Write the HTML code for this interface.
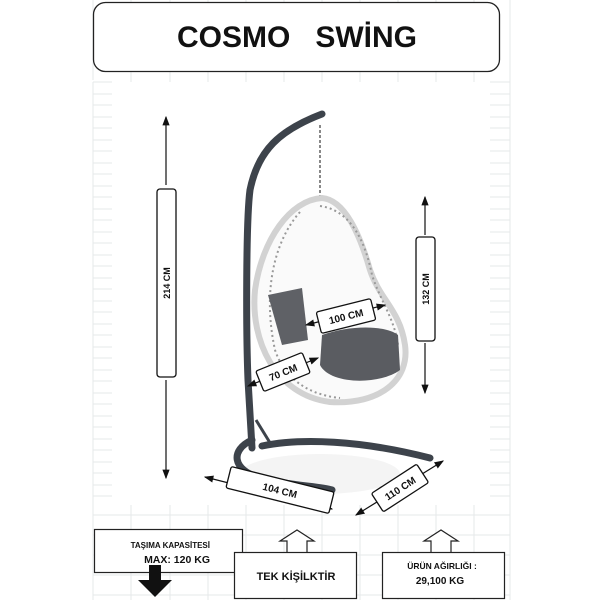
<!DOCTYPE html>
<html><head><meta charset="utf-8"><style>
body{margin:0;background:#fff}
svg{display:block}
text{font-family:"Liberation Sans",sans-serif;font-weight:bold;fill:#111}
</style></head><body>
<svg width="600" height="600" viewBox="0 0 600 600" xmlns="http://www.w3.org/2000/svg">
<defs>
<marker id="a" markerWidth="8" markerHeight="8" refX="7" refY="4" orient="auto"><path d="M0,1 L8,4 L0,7 z" fill="#111"/></marker>
<marker id="b" markerWidth="8" markerHeight="8" refX="1" refY="4" orient="auto"><path d="M8,1 L0,4 L8,7 z" fill="#111"/></marker>
</defs>
<g stroke="#e6e8ea" stroke-width="1">
<path d="M93,82 H112 M93,94 H112 M93,105 H112 M93,117 H112 M93,128 H112 M93,140 H112 M93,151 H112 M93,163 H112 M93,174 H112 M93,186 H112 M93,197 H112 M93,209 H112 M93,220 H112 M93,232 H112 M93,243 H112 M93,255 H112 M93,266 H112 M93,278 H112 M93,289 H112 M93,301 H112 M93,312 H112 M93,324 H112 M93,335 H112 M93,347 H112 M93,358 H112 M93,370 H112 M93,381 H112 M93,393 H112 M93,404 H112 M93,416 H112 M93,427 H112 M93,439 H112 M93,450 H112 M93,462 H112 M93,473 H112 M93,485 H112 M93,496 H112"/>
<path d="M490,82 H510 M490,94 H510 M490,105 H510 M490,117 H510 M490,128 H510 M490,140 H510 M490,151 H510 M490,163 H510 M490,174 H510 M490,186 H510 M490,197 H510 M490,209 H510 M490,220 H510 M490,232 H510 M490,243 H510 M490,255 H510 M490,266 H510 M490,278 H510 M490,289 H510 M490,301 H510 M490,312 H510 M490,324 H510 M490,335 H510 M490,347 H510 M490,358 H510 M490,370 H510 M490,381 H510 M490,393 H510 M490,404 H510 M490,416 H510 M490,427 H510 M490,439 H510 M490,450 H510 M490,462 H510 M490,473 H510 M490,485 H510 M490,496 H510"/>
<path d="M93,82 V600 M510,0 V600 M93,515 H510 M93,535 H510 M93,555 H510 M93,575 H510 M93,595 H510 M93,0 V80 M131,0 V82 M170,0 V82 M208,0 V82 M246,0 V82 M284,0 V82 M322,0 V82 M360,0 V82 M398,0 V82 M436,0 V82 M474,0 V82 M131,505 V600 M170,505 V600 M208,505 V600 M246,505 V600 M284,505 V600 M322,505 V600 M360,505 V600 M398,505 V600 M436,505 V600 M474,505 V600"/>
</g>
<rect x="93.5" y="2.5" width="406" height="69" rx="12" fill="#fff" stroke="#222" stroke-width="1.3"/>
<text x="297" y="47" font-size="30" text-anchor="middle">COSMO&#160;&#160;&#160;SWİNG</text>

<!-- swing -->
<ellipse cx="320" cy="474" rx="80" ry="20" fill="#f4f4f4"/>
<path d="M322,114 C280,130 258,150 250,190 C246,220 246,330 248,380 L252,448" fill="none" stroke="#3d434b" stroke-width="7" stroke-linecap="round"/>
<path d="M252,440 C230,450 232,470 260,478 C290,486 320,486 332,490 M262,446 C300,438 360,440 430,458" fill="none" stroke="#3d434b" stroke-width="7" stroke-linecap="round"/>
<path d="M256,420 L272,446" stroke="#3d434b" stroke-width="3"/>
<path d="M320,125 V196" stroke="#888" stroke-width="2" stroke-dasharray="3 2"/>
<path d="M322,198 C290,200 262,240 255,290 C250,340 275,395 330,402 C380,405 410,380 405,345 C400,310 380,300 370,270 C360,235 345,200 322,198 Z" fill="#fafafa" stroke="#d2d2d2" stroke-width="6"/>
<path d="M320,206 C350,210 365,240 372,275 C380,300 395,320 398,345 M300,212 C275,240 262,290 275,350 C285,380 310,395 340,398" fill="none" stroke="#999" stroke-width="2" stroke-dasharray="2 3"/>
<path d="M268,295 L302,288 L308,340 L282,345 Z" fill="#5f6166"/>
<path d="M322,335 C350,325 385,325 398,335 L400,370 C380,385 330,385 320,365 Z" fill="#5a5c61"/>

<!-- 214 -->
<line x1="166" y1="185" x2="166" y2="117" stroke="#111" stroke-width="1.2" marker-end="url(#a)"/>
<line x1="166" y1="380" x2="166" y2="478" stroke="#111" stroke-width="1.2" marker-end="url(#a)"/>
<rect x="157" y="189" width="19" height="188" rx="3" fill="#fff" stroke="#111" stroke-width="1.3"/>
<text transform="translate(170,283) rotate(-90)" font-size="9" text-anchor="middle">214 CM</text>
<!-- 132 -->
<line x1="425" y1="235" x2="425" y2="197" stroke="#111" stroke-width="1.2" marker-end="url(#a)"/>
<line x1="425" y1="343" x2="425" y2="393" stroke="#111" stroke-width="1.2" marker-end="url(#a)"/>
<rect x="416" y="237" width="19" height="104" rx="3" fill="#fff" stroke="#111" stroke-width="1.3"/>
<text transform="translate(429,289) rotate(-90)" font-size="9" text-anchor="middle">132 CM</text>
<!-- 100 -->
<line x1="306" y1="325" x2="385" y2="305" stroke="#111" stroke-width="1.2" marker-start="url(#b)" marker-end="url(#a)"/>
<g transform="translate(346,316) rotate(-14)"><rect x="-28" y="-11" width="56" height="22" rx="2" fill="#fff" stroke="#111" stroke-width="1.3"/><text y="4" font-size="10" text-anchor="middle">100 CM</text></g>
<!-- 70 -->
<line x1="248" y1="386" x2="318" y2="358" stroke="#111" stroke-width="1.2" marker-start="url(#b)" marker-end="url(#a)"/>
<g transform="translate(283,372) rotate(-22)"><rect x="-25" y="-11" width="50" height="22" rx="2" fill="#fff" stroke="#111" stroke-width="1.3"/><text y="4" font-size="10" text-anchor="middle">70 CM</text></g>
<!-- 104 -->
<line x1="205" y1="477" x2="332" y2="509" stroke="#111" stroke-width="1.2" marker-start="url(#b)" marker-end="url(#a)"/>
<g transform="translate(280,490) rotate(14)"><rect x="-53" y="-11" width="106" height="22" rx="2" fill="#fff" stroke="#111" stroke-width="1.3"/><text y="4" font-size="10" text-anchor="middle">104 CM</text></g>
<!-- 110 -->
<line x1="356" y1="515" x2="443" y2="461" stroke="#111" stroke-width="1.2" marker-start="url(#b)" marker-end="url(#a)"/>
<g transform="translate(400,488) rotate(-33)"><rect x="-27" y="-11" width="54" height="22" rx="2" fill="#fff" stroke="#111" stroke-width="1.3"/><text y="4" font-size="10" text-anchor="middle">110 CM</text></g>

<!-- bottom boxes -->
<rect x="94.5" y="529.5" width="148" height="43" fill="#fff" stroke="#222" stroke-width="1.2"/>
<text x="210" y="548" font-size="8" text-anchor="end">TAŞIMA KAPASİTESİ</text>
<text x="210" y="563" font-size="10.5" text-anchor="end">MAX: 120 KG</text>
<path d="M149,565 H161 V580 H172 L155,597 L138,580 H149 Z" fill="#111"/>

<path d="M287,552 V541 H280 L297,530 L314,541 H307 V552" fill="#fff" stroke="#222" stroke-width="1.2"/>
<rect x="234.5" y="552.5" width="122" height="46" fill="#fff" stroke="#222" stroke-width="1.2"/>
<text x="296" y="580" font-size="11" text-anchor="middle">TEK KİŞİLKTİR</text>

<path d="M431,552 V541 H424 L441,530 L458,541 H451 V552" fill="#fff" stroke="#222" stroke-width="1.2"/>
<rect x="382.5" y="552.5" width="122" height="46" fill="#fff" stroke="#222" stroke-width="1.2"/>
<text x="442" y="569" font-size="8.5" text-anchor="middle">ÜRÜN AĞIRLIĞI  :</text>
<text x="440" y="584" font-size="10" text-anchor="middle">29,100 KG</text>
</svg>
</body></html>
